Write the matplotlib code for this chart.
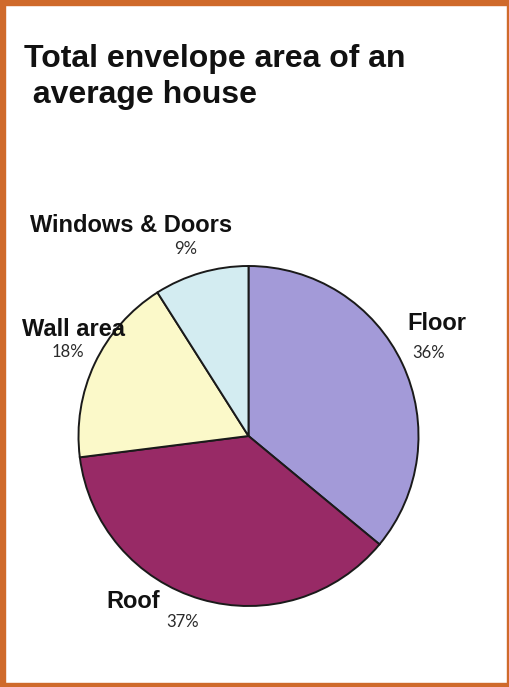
import matplotlib.pyplot as plt
from matplotlib.patches import Rectangle

# data
categories = ['Floor', 'Roof', 'Wall area', 'Windows & Doors']
shares = [36, 37, 18, 9]
pct_labels = ['36%', '37%', '18%', '9%']
title_lines = ['Total envelope area of an', ' average house']

colors = ['#a39ad8', '#982a66', '#fbf9c9', '#d3ecf1']
W, H = 510, 687

fig = plt.figure(figsize=(W / 100, H / 100), dpi=100)
fig.patch.set_facecolor('white')

# pie axes: centre ~ (248, 436) px, radius ~170 px
cx, cy, r = 248.5, 436, 170
ax = fig.add_axes([(cx - r) / W, 1 - (cy + r) / H, 2 * r / W, 2 * r / H])
ax.pie(shares, colors=colors, startangle=90, counterclock=False,
       wedgeprops=dict(edgecolor='#1a1a1a', linewidth=1.4))
ax.set_xlim(-1, 1)
ax.set_ylim(-1, 1)
ax.set_aspect('equal')
ax.axis('off')

# title, one line at a time (baselines ~67 and ~103 px)
for line, base in zip(title_lines, [67, 103]):
    fig.text(24 / W, 1 - base / H, line, ha='left', va='baseline',
             fontsize=23, fontweight='bold', family='Liberation Sans', color='#111111')

# labels (pixel positions from the reference)
name_pos = [(437, 324), (133, 602), (74, 330), (131, 225)]
pct_pos = [(429, 353), (183, 622), (68, 352), (186, 249)]
for name, pct, (nx, ny), (px, py) in zip(categories, pct_labels, name_pos, pct_pos):
    fig.text(nx / W, 1 - ny / H, name, ha='center', va='center',
             fontsize=17, fontweight='bold', family='Liberation Sans', color='#111111')
    fig.text(px / W, 1 - py / H, pct, ha='center', va='center',
             fontsize=12, family='Lato', color='#2a2a2a')

# orange frame
frame = '#cf6a2b'
fig.patches.append(Rectangle((0, 0), 5 / W, 1, transform=fig.transFigure, color=frame))
fig.patches.append(Rectangle((0, 1 - 5 / H), 1, 5 / H, transform=fig.transFigure, color=frame))
fig.patches.append(Rectangle((0, 0), 1, 4 / H, transform=fig.transFigure, color=frame))
fig.patches.append(Rectangle((1 - 3 / W, 0), 3 / W, 1, transform=fig.transFigure, color=frame))

fig.savefig('out.png', dpi=100)
